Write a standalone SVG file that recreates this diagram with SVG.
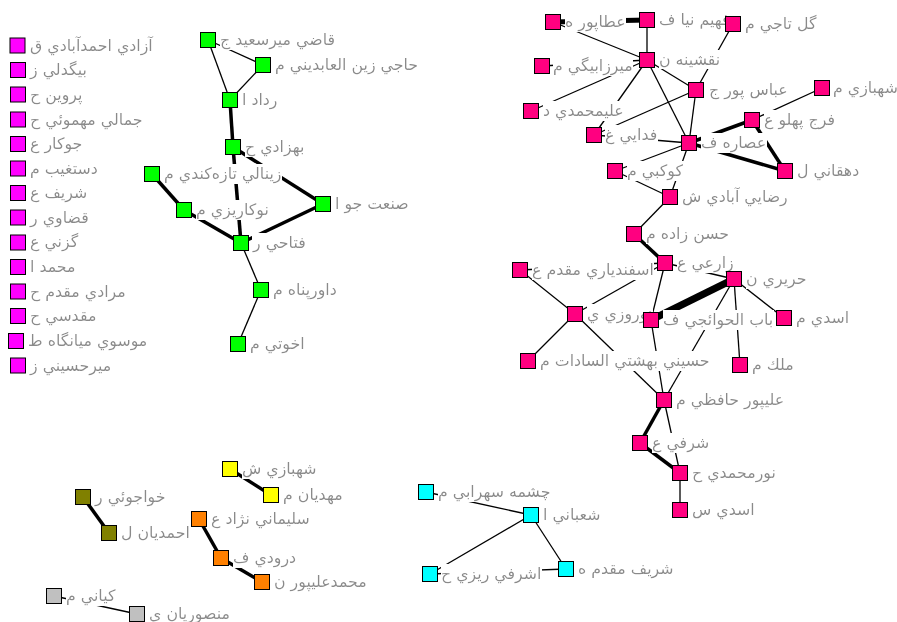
<svg xmlns="http://www.w3.org/2000/svg" width="897" height="622" viewBox="0 0 897 622">
<defs>
<filter id="bg" x="0" y="0" width="1" height="1"><feFlood flood-color="#ffffff"/><feComposite in="SourceGraphic" operator="over"/></filter>
</defs>
<style>
.n rect{stroke:#000;stroke-width:1}
.n text{font-family:"DejaVu Sans",sans-serif;font-size:15.8px;fill:#8a8a8a;filter:url(#bg)}
.mg rect{fill:#ff00ff}.gr rect{fill:#00ff00}.pk rect{fill:#ff0080}.cy rect{fill:#00ffff}
.ye rect{fill:#ffff00}.ol rect{fill:#808000}.or rect{fill:#ff8000}.gy rect{fill:#c0c0c0}
#edges line{stroke:#000;stroke-width:1.3}
#edges .t{stroke-width:3.5}#edges .tt{stroke-width:5}#edges .t3{stroke-width:7}
</style>
<rect width="897" height="622" fill="#fff"/>
<g id="edges">
<line x1="208" y1="40" x2="263" y2="65"/>
<line x1="208" y1="40" x2="230" y2="100"/>
<line x1="263" y1="65" x2="230" y2="100"/>
<line class="t" x1="230" y1="100" x2="233" y2="147"/>
<line class="t" x1="233" y1="147" x2="241" y2="243"/>
<line class="t" x1="233" y1="147" x2="323" y2="204"/>
<line class="t" x1="152" y1="174" x2="184" y2="210"/>
<line class="t" x1="184" y1="210" x2="241" y2="243"/>
<line class="t" x1="323" y1="204" x2="241" y2="243"/>
<line x1="241" y1="243" x2="261" y2="290"/>
<line x1="261" y1="290" x2="238" y2="344"/>
<line class="tt" x1="553" y1="22" x2="647" y2="20"/>
<line x1="553" y1="22" x2="647" y2="60"/>
<line x1="647" y1="20" x2="647" y2="60"/>
<line x1="733" y1="24" x2="696" y2="90"/>
<line x1="647" y1="60" x2="542" y2="66"/>
<line x1="647" y1="60" x2="531" y2="111"/>
<line x1="647" y1="60" x2="594" y2="135"/>
<line x1="647" y1="60" x2="696" y2="90"/>
<line x1="647" y1="60" x2="689" y2="143"/>
<line x1="696" y1="90" x2="689" y2="143"/>
<line x1="696" y1="90" x2="594" y2="135"/>
<line x1="822" y1="88" x2="752" y2="120"/>
<line class="t" x1="752" y1="120" x2="689" y2="143"/>
<line class="t" x1="752" y1="120" x2="785" y2="171"/>
<line class="t" x1="689" y1="143" x2="785" y2="171"/>
<line x1="594" y1="135" x2="689" y2="143"/>
<line x1="615" y1="171" x2="689" y2="143"/>
<line x1="689" y1="143" x2="670" y2="197"/>
<line x1="615" y1="171" x2="670" y2="197"/>
<line x1="670" y1="197" x2="634" y2="234"/>
<line class="t" x1="634" y1="234" x2="665" y2="263"/>
<line x1="520" y1="270" x2="665" y2="263"/>
<line x1="665" y1="263" x2="575" y2="314"/>
<line x1="665" y1="263" x2="651" y2="320"/>
<line x1="665" y1="263" x2="734" y2="279"/>
<line class="t3" x1="734" y1="279" x2="651" y2="320"/>
<line x1="734" y1="279" x2="784" y2="318"/>
<line x1="734" y1="279" x2="740" y2="365"/>
<line x1="734" y1="279" x2="664" y2="400"/>
<line x1="520" y1="270" x2="575" y2="314"/>
<line x1="575" y1="314" x2="528" y2="361"/>
<line x1="575" y1="314" x2="664" y2="400"/>
<line x1="651" y1="320" x2="664" y2="400"/>
<line class="t" x1="664" y1="400" x2="640" y2="443"/>
<line class="t" x1="640" y1="443" x2="680" y2="473"/>
<line x1="664" y1="400" x2="680" y2="473"/>
<line x1="680" y1="473" x2="680" y2="510"/>
<line x1="426" y1="492" x2="531" y2="515"/>
<line x1="531" y1="515" x2="430" y2="574"/>
<line x1="531" y1="515" x2="566" y2="569"/>
<line x1="430" y1="574" x2="566" y2="569"/>
<line class="t" x1="230" y1="469" x2="271" y2="495"/>
<line class="t" x1="83" y1="497" x2="109" y2="533"/>
<line class="t" x1="199" y1="519" x2="221" y2="558"/>
<line class="t" x1="221" y1="558" x2="262" y2="582"/>
<line x1="54" y1="596" x2="137" y2="614"/>
</g>
<g id="n-m1" class="n mg"><rect x="10" y="38" width="15" height="15"/><text x="30" y="51">آزادي احمدآبادي ق</text></g>
<g id="n-m2" class="n mg"><rect x="10.5" y="62.5" width="15" height="15"/><text x="30" y="75">بيگدلي ز</text></g>
<g id="n-m3" class="n mg"><rect x="10.5" y="87" width="15" height="15"/><text x="30" y="100">پروين ح</text></g>
<g id="n-m4" class="n mg"><rect x="10.5" y="112" width="15" height="15"/><text x="30" y="125">جمالي مهموئي ح</text></g>
<g id="n-m5" class="n mg"><rect x="10.5" y="136.5" width="15" height="15"/><text x="30" y="149">جوكار ع</text></g>
<g id="n-m6" class="n mg"><rect x="10.5" y="161" width="15" height="15"/><text x="30" y="174">دستغيب م</text></g>
<g id="n-m7" class="n mg"><rect x="10.5" y="185.5" width="15" height="15"/><text x="30" y="198">شريف ع</text></g>
<g id="n-m8" class="n mg"><rect x="10.5" y="210" width="15" height="15"/><text x="30" y="223">قضاوي ر</text></g>
<g id="n-m9" class="n mg"><rect x="10.5" y="235" width="15" height="15"/><text x="30" y="247">گزني ع</text></g>
<g id="n-m10" class="n mg"><rect x="10.5" y="259.5" width="15" height="15"/><text x="30" y="272">محمد ا</text></g>
<g id="n-m11" class="n mg"><rect x="10.5" y="284" width="15" height="15"/><text x="30" y="297">مرادي مقدم ح</text></g>
<g id="n-m12" class="n mg"><rect x="10.5" y="308.5" width="15" height="15"/><text x="30" y="321">مقدسي ح</text></g>
<g id="n-m13" class="n mg"><rect x="8.5" y="333.5" width="15" height="15"/><text x="28" y="346">موسوي ميانگاه ط</text></g>
<g id="n-m14" class="n mg"><rect x="10.5" y="358" width="15" height="15"/><text x="30" y="371">ميرحسيني ز</text></g>
<g id="n-g1" class="n gr"><rect x="200.5" y="32.5" width="15" height="15"/><text x="220" y="45">قاضي ميرسعيد ج</text></g>
<g id="n-g2" class="n gr"><rect x="255.5" y="57.5" width="15" height="15"/><text x="275" y="70">حاجي زين العابديني م</text></g>
<g id="n-g3" class="n gr"><rect x="222.5" y="92.5" width="15" height="15"/><text x="242" y="105">رداد ا</text></g>
<g id="n-g4" class="n gr"><rect x="225.5" y="139.5" width="15" height="15"/><text x="245" y="152">بهزادي ح</text></g>
<g id="n-g5" class="n gr"><rect x="144.5" y="166.5" width="15" height="15"/><text x="164" y="179">زينالي تازه‌کندي م</text></g>
<g id="n-g6" class="n gr"><rect x="176.5" y="202.5" width="15" height="15"/><text x="196" y="215">نوكاريزي م</text></g>
<g id="n-g7" class="n gr"><rect x="315.5" y="196.5" width="15" height="15"/><text x="335" y="209">صنعت جو ا</text></g>
<g id="n-g8" class="n gr"><rect x="233.5" y="235.5" width="15" height="15"/><text x="253" y="248">فتاحي ر</text></g>
<g id="n-g9" class="n gr"><rect x="253.5" y="282.5" width="15" height="15"/><text x="273" y="295">داورپناه م</text></g>
<g id="n-g10" class="n gr"><rect x="230.5" y="336.5" width="15" height="15"/><text x="250" y="349">اخوتي م</text></g>
<g id="n-esfandiari" class="n pk"><rect x="512.5" y="262.5" width="15" height="15"/><text x="532" y="275">اسفندياري مقدم ع</text></g>
<g id="n-nowruzi" class="n pk"><rect x="567.5" y="306.5" width="15" height="15"/><text x="587" y="319">نوروزي ي</text></g>
<g id="n-atapour" class="n pk"><rect x="545.5" y="14.5" width="15" height="15"/><text x="565" y="27">عطاپور ه</text></g>
<g id="n-fahim" class="n pk"><rect x="639.5" y="12.5" width="15" height="15"/><text x="659" y="25">فهيم نيا ف</text></g>
<g id="n-mirzabeigi" class="n pk"><rect x="534.5" y="58.5" width="15" height="15"/><text x="553" y="71">ميرزابيگي م</text></g>
<g id="n-alimohammadi" class="n pk"><rect x="523.5" y="103.5" width="15" height="15"/><text x="543" y="116">عليمحمدي د</text></g>
<g id="n-goltaji" class="n pk"><rect x="725.5" y="16.5" width="15" height="15"/><text x="745" y="29">گل تاجي م</text></g>
<g id="n-naghshine" class="n pk"><rect x="639.5" y="52.5" width="15" height="15"/><text x="659" y="65">نقشينه ن</text></g>
<g id="n-abbaspour" class="n pk"><rect x="688.5" y="82.5" width="15" height="15"/><text x="709" y="95">عباس پور ج</text></g>
<g id="n-shahbazi" class="n pk"><rect x="814.5" y="80.5" width="15" height="15"/><text x="833" y="93">شهبازي م</text></g>
<g id="n-fadaei" class="n pk"><rect x="586.5" y="127.5" width="15" height="15"/><text x="605" y="140">فدايي غ</text></g>
<g id="n-kowkabi" class="n pk"><rect x="607.5" y="163.5" width="15" height="15"/><text x="627" y="176">كوكبي م</text></g>
<g id="n-farj" class="n pk"><rect x="744.5" y="112.5" width="15" height="15"/><text x="764" y="125">فرج پهلو ع</text></g>
<g id="n-osare" class="n pk"><rect x="681.5" y="135.5" width="15" height="15"/><text x="701" y="148">عصاره ف</text></g>
<g id="n-dehghani" class="n pk"><rect x="777.5" y="163.5" width="15" height="15"/><text x="797" y="176">دهقاني ل</text></g>
<g id="n-rezaei" class="n pk"><rect x="662.5" y="189.5" width="15" height="15"/><text x="682" y="202">رضايي آبادي ش</text></g>
<g id="n-hasanzade" class="n pk"><rect x="626.5" y="226.5" width="15" height="15"/><text x="646" y="239">حسن زاده م</text></g>
<g id="n-zarei" class="n pk"><rect x="657.5" y="255.5" width="15" height="15"/><text x="677" y="268">زارعي ع</text></g>
<g id="n-harir" class="n pk"><rect x="726.5" y="271.5" width="15" height="15"/><text x="746" y="284">حريري ن</text></g>
<g id="n-bab" class="n pk"><rect x="643.5" y="312.5" width="15" height="15"/><text x="663" y="325">باب الحوائجي ف</text></g>
<g id="n-asadim" class="n pk"><rect x="776.5" y="310.5" width="15" height="15"/><text x="796" y="323">اسدي م</text></g>
<g id="n-hoseini" class="n pk"><rect x="520.5" y="353.5" width="15" height="15"/><text x="540" y="366">حسيني بهشتي السادات م</text></g>
<g id="n-malek" class="n pk"><rect x="732.5" y="357.5" width="15" height="15"/><text x="752" y="370">ملك م</text></g>
<g id="n-alipour" class="n pk"><rect x="656.5" y="392.5" width="15" height="15"/><text x="676" y="405">عليپور حافظي م</text></g>
<g id="n-sharafi" class="n pk"><rect x="632.5" y="435.5" width="15" height="15"/><text x="652" y="448">شرفي ع</text></g>
<g id="n-nourmohammadi" class="n pk"><rect x="672.5" y="465.5" width="15" height="15"/><text x="692" y="478">نورمحمدي ح</text></g>
<g id="n-asadis" class="n pk"><rect x="672.5" y="502.5" width="15" height="15"/><text x="692" y="515">اسدي س</text></g>
<g id="n-cheshme" class="n cy"><rect x="418.5" y="484.5" width="15" height="15"/><text x="438" y="497">چشمه سهرابي م</text></g>
<g id="n-shabani" class="n cy"><rect x="523.5" y="507.5" width="15" height="15"/><text x="543" y="520">شعباني ا</text></g>
<g id="n-ashrafi" class="n cy"><rect x="422.5" y="566.5" width="15" height="15"/><text x="441" y="579">اشرفي ريزي ح</text></g>
<g id="n-sharifm" class="n cy"><rect x="558.5" y="561.5" width="15" height="15"/><text x="578" y="574">شريف مقدم ه</text></g>
<g id="n-shahbazis" class="n ye"><rect x="222.5" y="461.5" width="15" height="15"/><text x="242" y="474">شهبازي ش</text></g>
<g id="n-mahdian" class="n ye"><rect x="263.5" y="487.5" width="15" height="15"/><text x="283" y="500">مهديان م</text></g>
<g id="n-khajavi" class="n ol"><rect x="75.5" y="489.5" width="15" height="15"/><text x="95" y="502">خواجوئي ر</text></g>
<g id="n-ahmadian" class="n ol"><rect x="101.5" y="525.5" width="15" height="15"/><text x="121" y="538">احمديان ل</text></g>
<g id="n-soleimani" class="n or"><rect x="191.5" y="511.5" width="15" height="15"/><text x="211" y="524">سليماني نژاد ع</text></g>
<g id="n-dorudi" class="n or"><rect x="213.5" y="550.5" width="15" height="15"/><text x="233" y="563">درودي ف</text></g>
<g id="n-mohammadalipour" class="n or"><rect x="254.5" y="574.5" width="15" height="15"/><text x="274" y="587">محمدعليپور ن</text></g>
<g id="n-kiyani" class="n gy"><rect x="46.5" y="588.5" width="15" height="15"/><text x="66" y="601">كياني م</text></g>
<g id="n-mansourian" class="n gy"><rect x="129.5" y="606.5" width="15" height="15"/><text x="149" y="619">منصوريان ي</text></g>
</svg>
